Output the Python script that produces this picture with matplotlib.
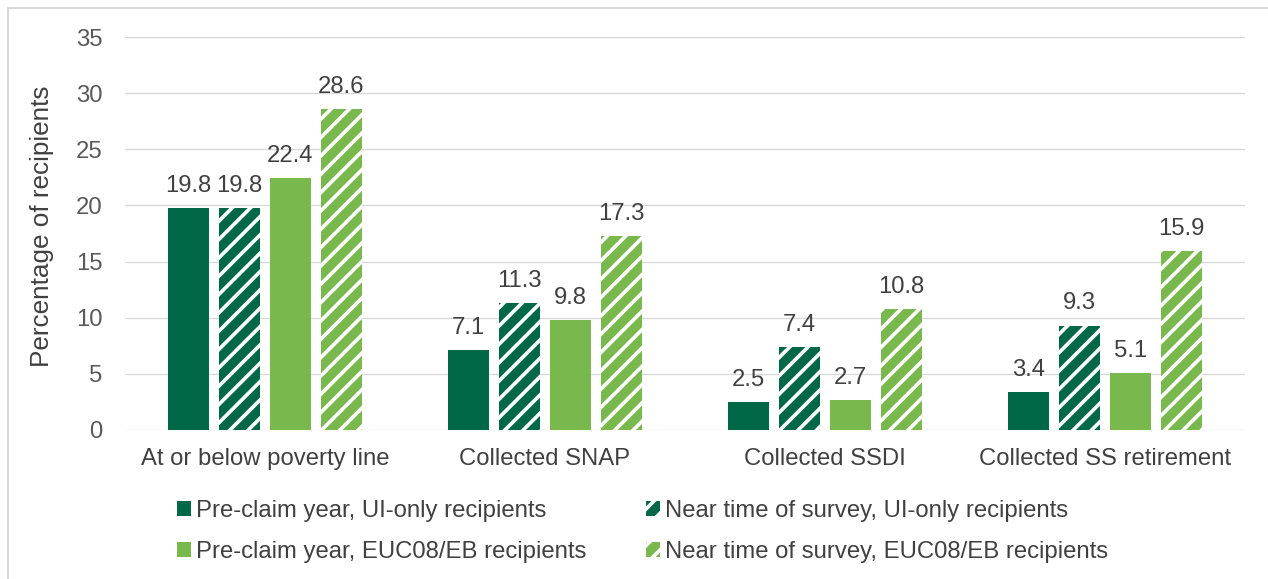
import matplotlib
matplotlib.use('Agg')
import matplotlib.pyplot as plt
from matplotlib.lines import Line2D
import numpy as np

categories = ["At or below poverty line", "Collected SNAP", "Collected SSDI", "Collected SS retirement"]
series_labels = ["Pre-claim year, UI-only recipients",
                 "Near time of survey, UI-only recipients",
                 "Pre-claim year, EUC08/EB recipients",
                 "Near time of survey, EUC08/EB recipients"]
pre_ui = [19.8, 7.1, 2.5, 3.4]
near_ui = [19.8, 11.3, 7.4, 9.3]
pre_euc = [22.4, 9.8, 2.7, 5.1]
near_euc = [28.6, 17.3, 10.8, 15.9]
yticks = [0, 5, 10, 15, 20, 25, 30, 35]

DARK = '#006747'
LIGHT = '#79B84D'

W, H, DPI = 1268, 579, 110
K = 80 / DPI  # sizes below were tuned in points at dpi 80

plt.rcParams['font.family'] = ['Liberation Sans', 'DejaVu Sans']
plt.rcParams['hatch.linewidth'] = 3.3 * K

fig = plt.figure(figsize=(W / DPI, H / DPI), dpi=DPI)
ax = fig.add_axes([125 / W, 1 - 430 / H, 1120 / W, 393 / H])

x = np.arange(len(categories))
bw = 0.146
step = 0.182
series = [pre_ui, near_ui, pre_euc, near_euc]
colors = [DARK, DARK, LIGHT, LIGHT]
hatches = [None, '//', None, '//']
fs = 21.5 * K
handles = []
for i, (vals, c, h) in enumerate(zip(series, colors, hatches)):
    off = (i - 1.5) * step
    if h:
        bars = ax.bar(x + off, vals, bw, color=c, edgecolor='white', hatch=h,
                      linewidth=0, label=series_labels[i], zorder=3)
    else:
        bars = ax.bar(x + off, vals, bw, color=c, edgecolor=c, linewidth=0,
                      label=series_labels[i], zorder=3)
    handles.append(bars)
    ax.bar_label(bars, fmt='%.1f', padding=10 * K, fontsize=fs, color='#404040')

ax.set_xlim(-0.5, len(categories) - 0.5)
ax.set_ylim(0, 35)
ax.set_yticks(yticks)
ax.set_xticks(x)
ax.set_xticklabels(categories)
ax.tick_params(axis='y', length=0, pad=20 * K, labelsize=fs, labelcolor='#595959')
ax.tick_params(axis='x', length=0, pad=16 * K, labelsize=fs, labelcolor='#404040')
for s in ax.spines.values():
    s.set_visible(False)
ax.grid(axis='y', color='#D9D9D9', linewidth=1.2 * K, zorder=0)
ax.set_axisbelow(True)

fig.text(42 / W, 1 - 226 / H, "Percentage of recipients", rotation=90,
         ha='center', va='center', fontsize=23.5 * K, color='#404040')

order = [0, 2, 1, 3]
leg = fig.legend([handles[i] for i in order], [series_labels[i] for i in order],
                 ncol=2, loc='upper left', bbox_to_anchor=(177 / W, 1 - 500 / H),
                 frameon=False, fontsize=fs, handlelength=0.58, handleheight=0.58,
                 handletextpad=0.22, columnspacing=2.5, labelspacing=0.8,
                 borderpad=0, borderaxespad=0)
for t in leg.get_texts():
    t.set_color('#404040')

fig.add_artist(Line2D([8 / W, 1], [1 - 8 / H, 1 - 8 / H], transform=fig.transFigure,
                      color='#D9D9D9', linewidth=1.8 * K))
fig.add_artist(Line2D([8 / W, 8 / W], [0, 1 - 8 / H], transform=fig.transFigure,
                      color='#D9D9D9', linewidth=1.8 * K))

fig.savefig('out.png', dpi=DPI, facecolor='white')
